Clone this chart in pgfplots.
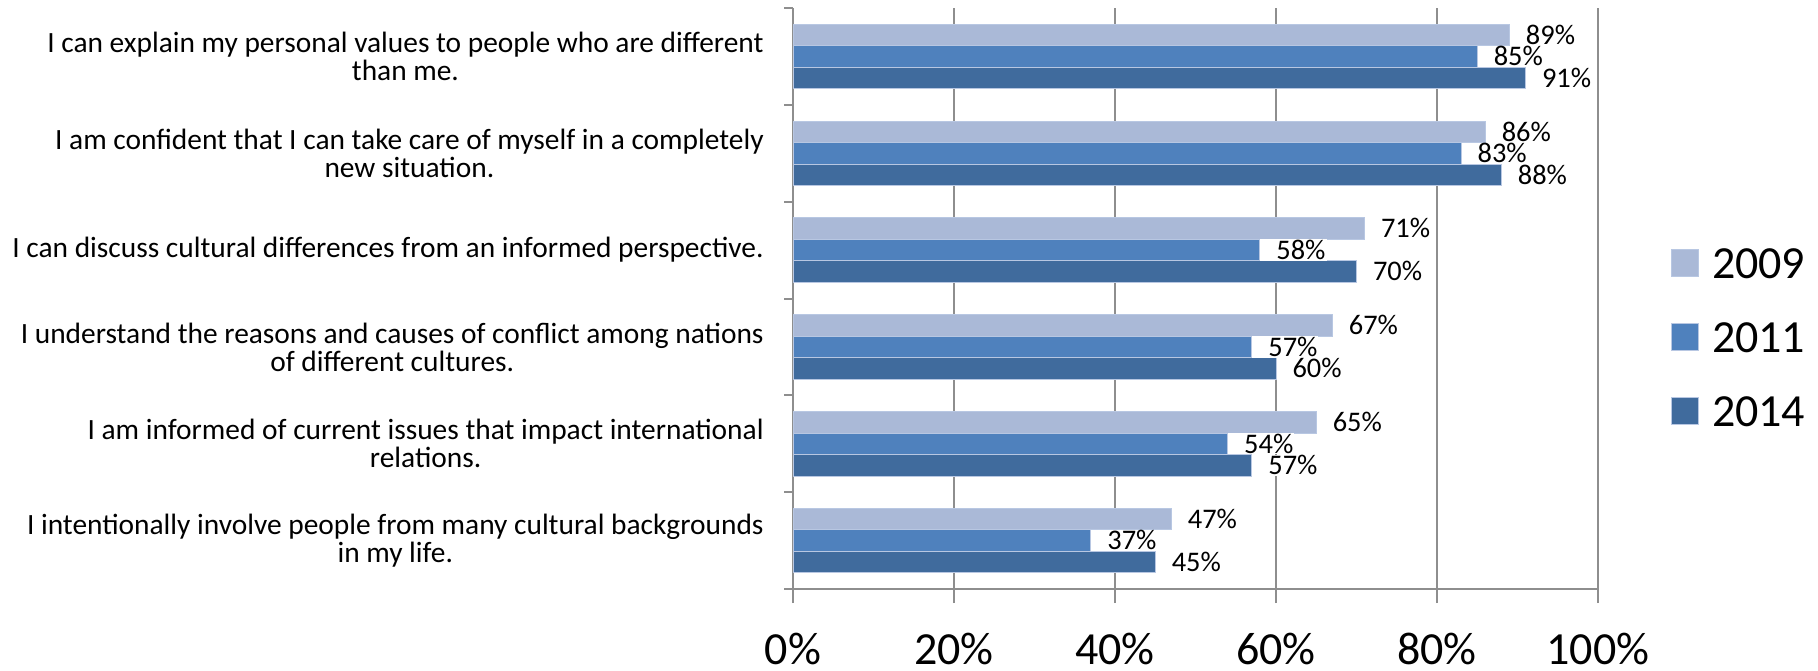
\documentclass[border=0pt]{standalone}
\usepackage{fontspec}
\setmainfont{Carlito}
\usepackage{pgfplots}
\pgfplotsset{compat=1.18}
\definecolor{cA}{HTML}{AAB9D7}
\definecolor{cB}{HTML}{4F81BD}
\definecolor{cC}{HTML}{406B9D}
\definecolor{edge}{HTML}{B8C7E2}
\definecolor{gridc}{HTML}{8E8E8E}
\pgfplotsset{
  sqlegend/.style={legend image code/.code={\fill[##1] (0pt,-6.5pt) rectangle (13.5pt,7pt);}},
}
\begin{document}
\begin{tikzpicture}
\path[use as bounding box] (0,0) rectangle (909pt,-335pt);
\begin{axis}[
  at={(396.5pt,-4pt)}, anchor=north west,
  scale only axis, width=402.5pt, height=290.5pt,
  xbar, bar width=0.222,
  xmin=0, xmax=100, ymin=-0.5, ymax=5.5, y dir=reverse,
  clip=false,
  axis x line*=bottom, axis y line*=left,
  axis line style={draw=gridc, line width=1pt},
  xmajorgrids, grid style={draw=gridc, line width=1pt},
  xtick={0,20,40,60,80,100},
  xticklabels={0\%,20\%,40\%,60\%,80\%,100\%},
  ytick={0,1,2,3,4,5},
  minor ytick={-0.5,0.5,1.5,2.5,3.5,4.5,5.5},
  yticklabels={
    {I can explain my personal values to people who are different\\than me.},
    {I am confident that I can take care of myself in a completely\\new situation.},
    {I can discuss cultural differences from an informed perspective.},
    {I understand the reasons and causes of conflict among nations\\of different cultures.},
    {I am informed of current issues that impact international\\relations.},
    {I intentionally involve people from many cultural backgrounds\\in my life.}},
  tick align=outside,
  major tick length=7pt, minor tick length=4.5pt,
  major y tick style={draw=none},
  minor y tick style={draw=gridc, line width=1pt},
  major x tick style={draw=gridc, line width=1pt},
  yticklabel style={font=\fontsize{14.7}{14}\selectfont, align=center, inner sep=0pt, xshift=-7.5pt, text=black},
  xticklabel style={font=\fontsize{23}{27}\selectfont, anchor=base, inner sep=0pt, yshift=-30.5pt, text=black},
  point meta=x,
  nodes near coords={\hspace*{7.5pt}\pgfmathprintnumber[assume math mode=true]{\pgfplotspointmeta}\%},
  every node near coord/.append style={anchor=west, fill=white, inner xsep=0.5pt, inner ysep=0pt, text height=10pt, text depth=0.7pt, font=\fontsize{14.2}{16}\selectfont, text=black},
  legend style={at={(axis description cs:1.0907,0.5869)}, anchor=north west, draw=none, fill=none, inner sep=0pt, outer sep=0pt, row sep=22pt, column sep=6.5pt, nodes={inner sep=0pt, text height=15pt, text depth=0pt, font=\fontsize{23}{27}\selectfont}},
  legend cell align=left,
]
\addplot[fill=cA, draw=edge, line width=0.5pt, bar shift=-0.222, sqlegend] coordinates {(89,0) (86,1) (71,2) (67,3) (65,4) (47,5)};
\addplot[fill=cB, draw=edge, line width=0.5pt, bar shift=0, sqlegend] coordinates {(85,0) (83,1) (58,2) (57,3) (54,4) (37,5)};
\addplot[fill=cC, draw=edge, line width=0.5pt, bar shift=0.222, sqlegend] coordinates {(91,0) (88,1) (70,2) (60,3) (57,4) (45,5)};
\legend{2009,2011,2014}
\end{axis}
\end{tikzpicture}
\end{document}
